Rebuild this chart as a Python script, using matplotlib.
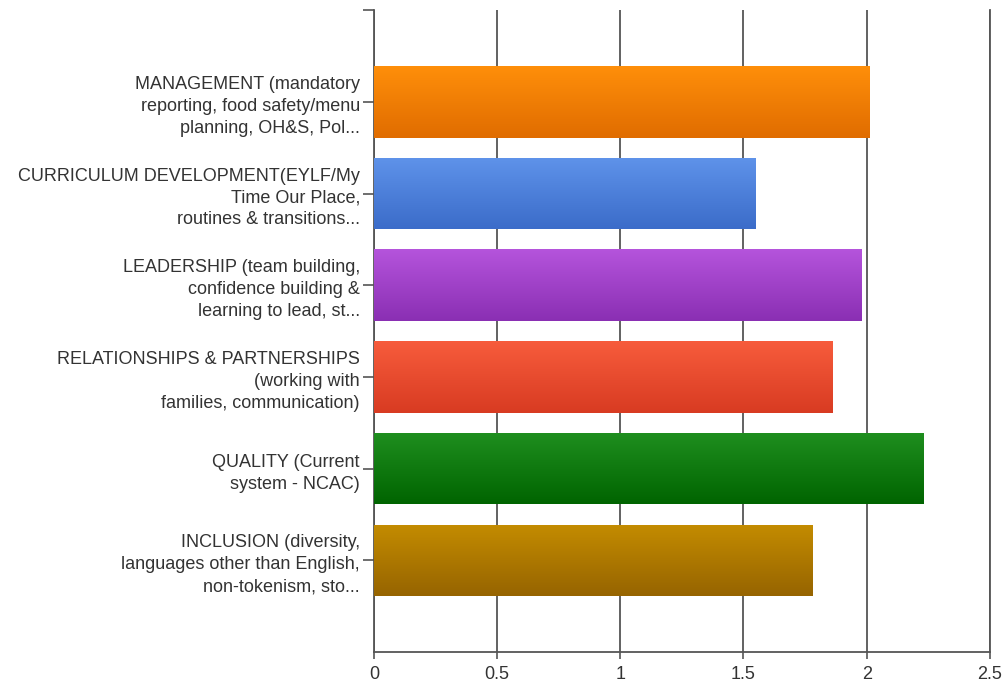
import numpy as np
import matplotlib.pyplot as plt
from matplotlib.colors import LinearSegmentedColormap

plt.rcParams['font.family'] = ['Liberation Sans', 'DejaVu Sans']

categories = [
    "MANAGEMENT (mandatory\nreporting, food safety/menu\nplanning, OH&S, Pol...",
    "CURRICULUM DEVELOPMENT(EYLF/My\nTime Our Place,\nroutines & transitions...",
    "LEADERSHIP (team building,\nconfidence building &\nlearning to lead, st...",
    "RELATIONSHIPS & PARTNERSHIPS\n(working with\nfamilies, communication)",
    "QUALITY (Current\nsystem - NCAC)",
    "INCLUSION (diversity,\nlanguages other than English,\nnon-tokenism, sto...",
]
values = [2.01, 1.55, 1.98, 1.86, 2.23, 1.78]
# (top colour, bottom colour) for the gradient fill of each bar
bar_colors = [
    ("#ff8f0a", "#e06c00"),
    ("#5f93ea", "#3b6cc9"),
    ("#b554dc", "#8a2fb3"),
    ("#f75c3c", "#d83b22"),
    ("#1f8f1f", "#006400"),
    ("#c48c00", "#966400"),
]
x_ticks = [0, 0.5, 1, 1.5, 2, 2.5]
x_tick_labels = ["0", "0.5", "1", "1.5", "2", "2.5"]

fig = plt.figure(figsize=(10.05, 6.86), dpi=100)
ax = fig.add_axes([0.372, 0.0496, 0.613, 0.9356])

ypos = np.arange(len(categories))
height = 0.78

bars = ax.barh(ypos, values, height=height, color='none', edgecolor='none', zorder=3)
grad = np.linspace(0, 1, 256).reshape(-1, 1)
for bar, (top, bot) in zip(bars, bar_colors):
    cmap = LinearSegmentedColormap.from_list('g', [top, bot])
    x0, y0 = bar.get_x(), bar.get_y()
    w, h = bar.get_width(), bar.get_height()
    im = ax.imshow(grad, cmap=cmap, aspect='auto', zorder=3,
                   extent=[x0, x0 + w, y0 + h, y0], origin='upper')
    im.set_clip_path(bar)

ax.set_xlim(0, 2.5)
ax.set_ylim(len(categories), -1)
ax.set_yticks(list(ypos) + [-1])
ax.set_yticklabels(categories + [""], fontsize=13, color='#333333', linespacing=1.38)
ax.set_xticks(x_ticks)
ax.set_xticklabels(x_tick_labels, fontsize=13, color='#333333')

ax.grid(axis='x', color='#555555', linewidth=1.3, zorder=0)
ax.axvline(x_ticks[-1], color='#555555', linewidth=1.3, zorder=0, clip_on=False)
ax.set_axisbelow(True)
for s in ['top', 'right']:
    ax.spines[s].set_visible(False)
for s in ['left', 'bottom']:
    ax.spines[s].set_color('#555555')
    ax.spines[s].set_linewidth(1.3)
ax.tick_params(axis='y', length=8, width=1.2, color='#555555', pad=2)
ax.tick_params(axis='x', length=5, width=1.2, color='#555555', pad=5)

fig.savefig('out.png', dpi=100)
